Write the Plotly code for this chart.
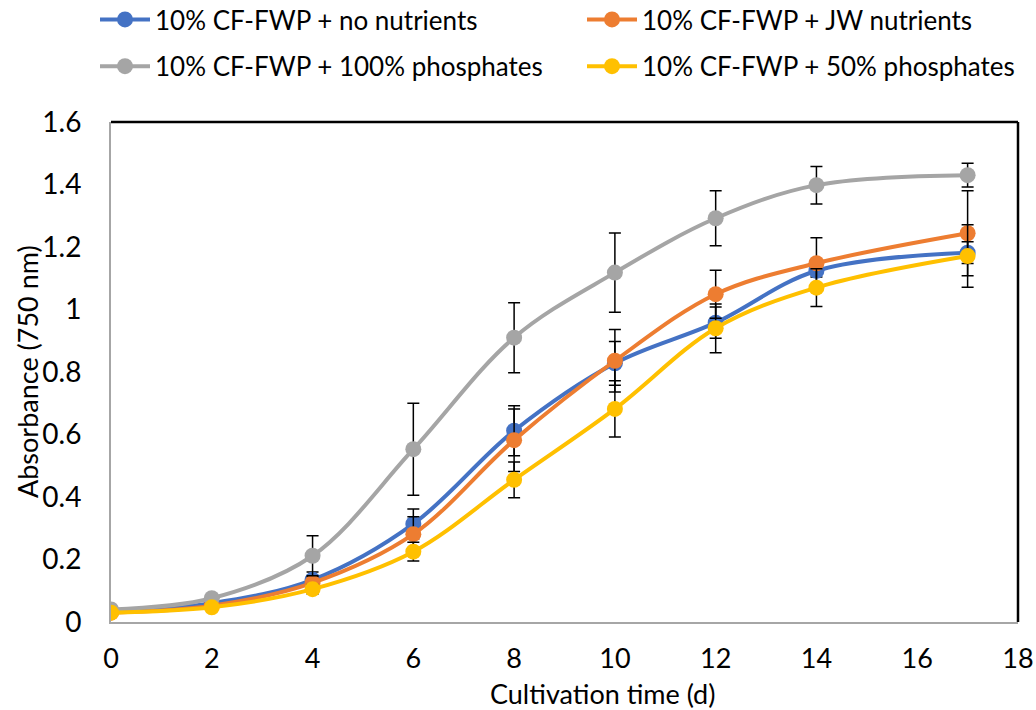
import plotly.graph_objects as go

days = [0, 2, 4, 6, 8, 10, 12, 14, 17]

names = [
    "10% CF-FWP + no nutrients",
    "10% CF-FWP + JW nutrients",
    "10% CF-FWP + 100% phosphates",
    "10% CF-FWP + 50% phosphates",
]
colors = ["#4472C4", "#ED7D31", "#A5A5A5", "#FFC000"]
legend_slot = ["legend", "legend2", "legend", "legend2"]

no_nutrients = [0.035, 0.060, 0.135, 0.314, 0.612, 0.828, 0.958, 1.124, 1.182]
no_nutrients_err = [0.005, 0.008, 0.025, 0.048, 0.080, 0.070, 0.050, 0.020, 0.035]

jw_nutrients = [0.030, 0.052, 0.125, 0.281, 0.582, 0.836, 1.049, 1.148, 1.244]
jw_nutrients_err = [0.005, 0.008, 0.020, 0.056, 0.100, 0.100, 0.077, 0.082, 0.136]

phos_100 = [0.040, 0.076, 0.212, 0.553, 0.910, 1.118, 1.292, 1.398, 1.430]
phos_100_err = [0.005, 0.010, 0.064, 0.147, 0.112, 0.127, 0.088, 0.060, 0.038]

phos_50 = [0.030, 0.047, 0.105, 0.225, 0.455, 0.682, 0.940, 1.070, 1.171]
phos_50_err = [0.004, 0.006, 0.015, 0.030, 0.057, 0.090, 0.078, 0.060, 0.100]

series = [
    (no_nutrients, no_nutrients_err),
    (jw_nutrients, jw_nutrients_err),
    (phos_100, phos_100_err),
    (phos_50, phos_50_err),
]

font_family = "Lato, 'Open Sans', sans-serif"

W, H = 1036, 710
ML, MR, MT, MB = 111, 18, 122, 88
plot_h = H - MT - MB
plot_w = W - ML - MR

fig = go.Figure()
for i, (name, color, (vals, errs)) in enumerate(zip(names, colors, series)):
    fig.add_trace(go.Scatter(
        x=days, y=vals, name=name,
        mode="lines+markers",
        legend=legend_slot[i], legendgroup=f"g{i}",
        line=dict(color=color, width=4, shape="spline", smoothing=1.0),
        marker=dict(color=color, size=16),
        error_y=dict(type="data", array=errs, visible=True,
                     color="#000000", thickness=1.5, width=6),
    ))

leg_y = 1 + (MT + 4) / plot_h
leg_common = dict(
    orientation="v",
    yref="paper", xref="container",
    y=leg_y,
    yanchor="top", xanchor="left",
    itemwidth=50,
    font=dict(family=font_family, size=26, color="#000000"),
    tracegroupgap=10,
    bgcolor="rgba(0,0,0,0)",
)

fig.update_layout(
    width=W, height=H,
    paper_bgcolor="white", plot_bgcolor="white",
    margin=dict(l=ML, r=MR, t=MT, b=MB, autoexpand=False),
    font=dict(family=font_family, size=26, color="#000000"),
    showlegend=True,
    legend=dict(x=95 / W, **leg_common),
    legend2=dict(x=582 / W, **leg_common),
    xaxis=dict(
        range=[0, 18], dtick=2, tick0=0,
        showgrid=False, zeroline=False,
        showline=True, linecolor="#A6A6A6", linewidth=2,
        ticks="", ticklabelstandoff=12, ticklabeloverflow="allow",
        tickfont=dict(family=font_family, size=27),
    ),
    yaxis=dict(
        range=[0, 1.6], dtick=0.2, tick0=0,
        showgrid=False, zeroline=False,
        showline=True, linecolor="#A6A6A6", linewidth=2,
        ticks="", ticklabelstandoff=22, ticklabeloverflow="allow",
        tickfont=dict(family=font_family, size=28),
    ),
    annotations=[
        dict(text="Cultivation time (d)", xref="paper", yref="paper",
             x=(602 - ML) / plot_w, y=-(693 - (H - MB)) / plot_h,
             xanchor="center", yanchor="middle", showarrow=False,
             font=dict(family=font_family, size=27, color="#000000")),
        dict(text="Absorbance (750 nm)", xref="paper", yref="paper",
             x=-(ML - 27) / plot_w, y=0.5, textangle=-90,
             xanchor="center", yanchor="middle", showarrow=False,
             font=dict(family=font_family, size=27, color="#000000")),
    ],
    shapes=[
        dict(type="line", xref="paper", yref="paper", x0=0, x1=1, y0=1, y1=1,
             line=dict(color="#000000", width=2.5)),
        dict(type="line", xref="paper", yref="paper", x0=1, x1=1, y0=0, y1=1,
             line=dict(color="#000000", width=2.5)),
    ],
)

fig.write_html(
    "out.html",
    config={"displayModeBar": False},
    post_script="document.body.style.margin='0';document.body.style.overflow='hidden';",
)
